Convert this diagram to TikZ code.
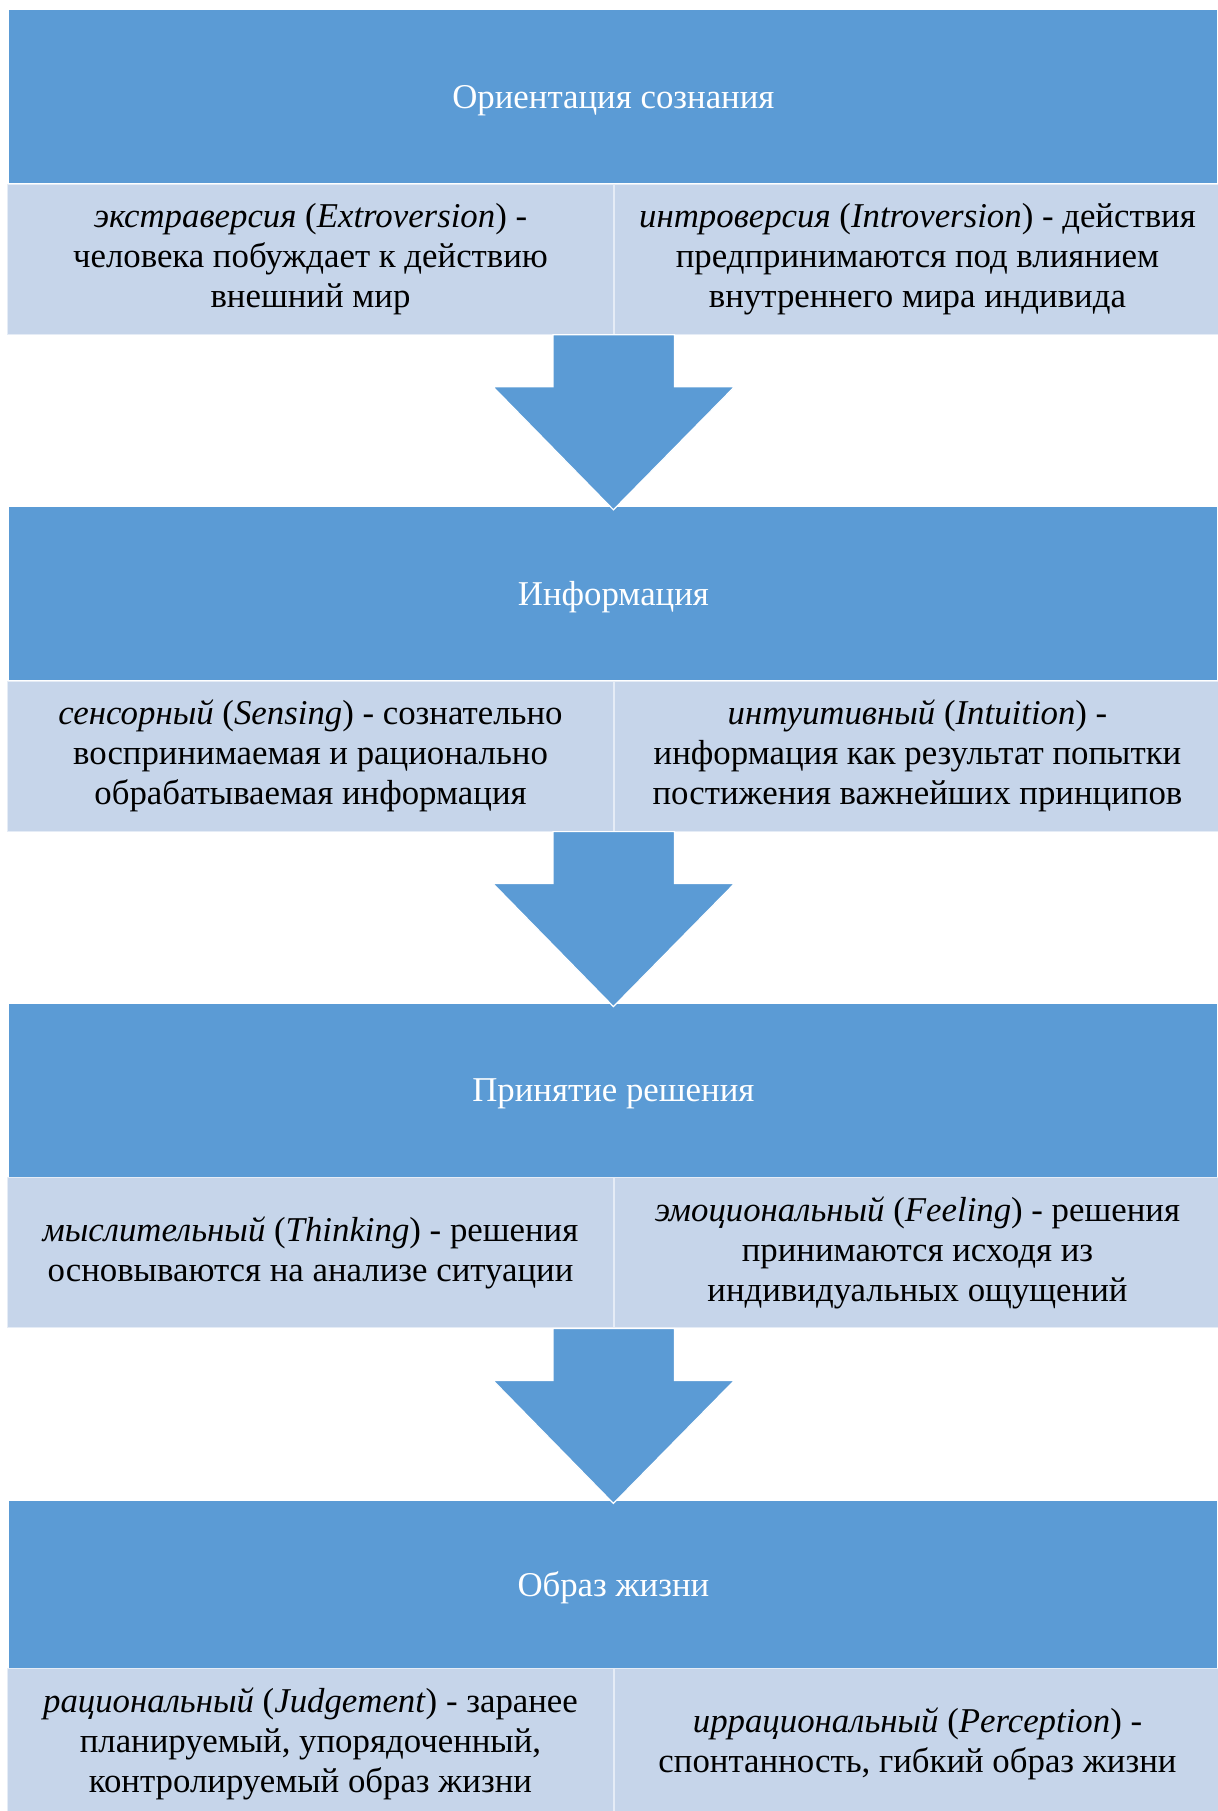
\documentclass[tikz,border=0pt]{standalone}
\usepackage{fontspec}
\setmainfont{Liberation Serif}
\newfontfamily\rusfont{Liberation Serif}
\usepackage{tikz}
\usetikzlibrary{calc,positioning}
\definecolor{headblue}{HTML}{5B9BD5}
\definecolor{cellblue}{HTML}{C6D5EA}

\begin{document}
\begin{tikzpicture}[x=0.5pt, y=-0.5pt]

\tikzset{
head/.style={fill=headblue,text=white,anchor=north west,inner sep=0pt,text depth=0pt,minimum width=604pt,minimum height=86.5pt,font=\rusfont\fontsize{17.4}{20}\selectfont},
cell/.style={fill=cellblue,draw=white!55!cellblue,line width=0.5pt,anchor=north west,inner sep=0pt,minimum width=303pt,minimum height=75pt,align=center,font=\rusfont\fontsize{17.4}{20}\selectfont},
bigarrow/.style={fill=headblue,draw=white,line width=0.6pt,line join=miter}
}

\useasboundingbox (0,0) rectangle (1218,1811);

% Headers and cells
\node[head] (orient) at (9,10) {Ориентация сознания};
\node[cell] (extro) at ($(orient.south west) + (-2,0)$) {\textit{экстраверсия} (\textit{Extroversion}) -\\человека побуждает к действию\\внешний мир};
\node[cell] (intro) at (extro.north east) {\textit{интроверсия} (\textit{Introversion}) - действия\\предпринимаются под влиянием\\внутреннего мира индивида};

\node[head] (info) at ($(extro.south west) + (2,172)$) {Информация};
\node[cell] (sens) at ($(info.south west) + (-2,0)$) {\textit{сенсорный} (\textit{Sensing}) - сознательно\\воспринимаемая и рационально\\обрабатываемая информация};
\node[cell] (intuit) at (sens.north east) {\textit{интуитивный} (\textit{Intuition}) -\\информация как результат попытки\\постижения важнейших принципов};

\node[head] (decide) at ($(sens.south west) + (2,172)$) {Принятие решения};
\node[cell] (think) at ($(decide.south west) + (-2,0)$) {\textit{мыслительный} (\textit{Thinking}) - решения\\основываются на анализе ситуации};
\node[cell] (feel) at (think.north east) {\textit{эмоциональный} (\textit{Feeling}) - решения\\принимаются исходя из\\индивидуальных ощущений};

\node[head, minimum height=83.5pt] (life) at ($(think.south west) + (2,172)$) {Образ жизни};
\node[cell] (judge) at ($(life.south west) + (-2,0)$) {\textit{рациональный} (\textit{Judgement}) - заранее\\планируемый, упорядоченный,\\контролируемый образ жизни};
\node[cell] (percep) at (judge.north east) {\textit{иррациональный} (\textit{Perception}) -\\спонтанность, гибкий образ жизни};

% Arrows
\filldraw[bigarrow] (extro.south east) ++(-61,0) -- ++(0,52) -- ++(-60,0) -- ($(info.north) + (0,3)$) -- ++(121,-123) -- ++(-60,0) -- ++(0,-52) -- cycle;
\filldraw[bigarrow] (sens.south east) ++(-61,0) -- ++(0,52) -- ++(-60,0) -- ($(decide.north) + (0,3)$) -- ++(121,-123) -- ++(-60,0) -- ++(0,-52) -- cycle;
\filldraw[bigarrow] (think.south east) ++(-61,0) -- ++(0,52) -- ++(-60,0) -- ($(life.north) + (0,3)$) -- ++(121,-123) -- ++(-60,0) -- ++(0,-52) -- cycle;

\end{tikzpicture}
\end{document}
